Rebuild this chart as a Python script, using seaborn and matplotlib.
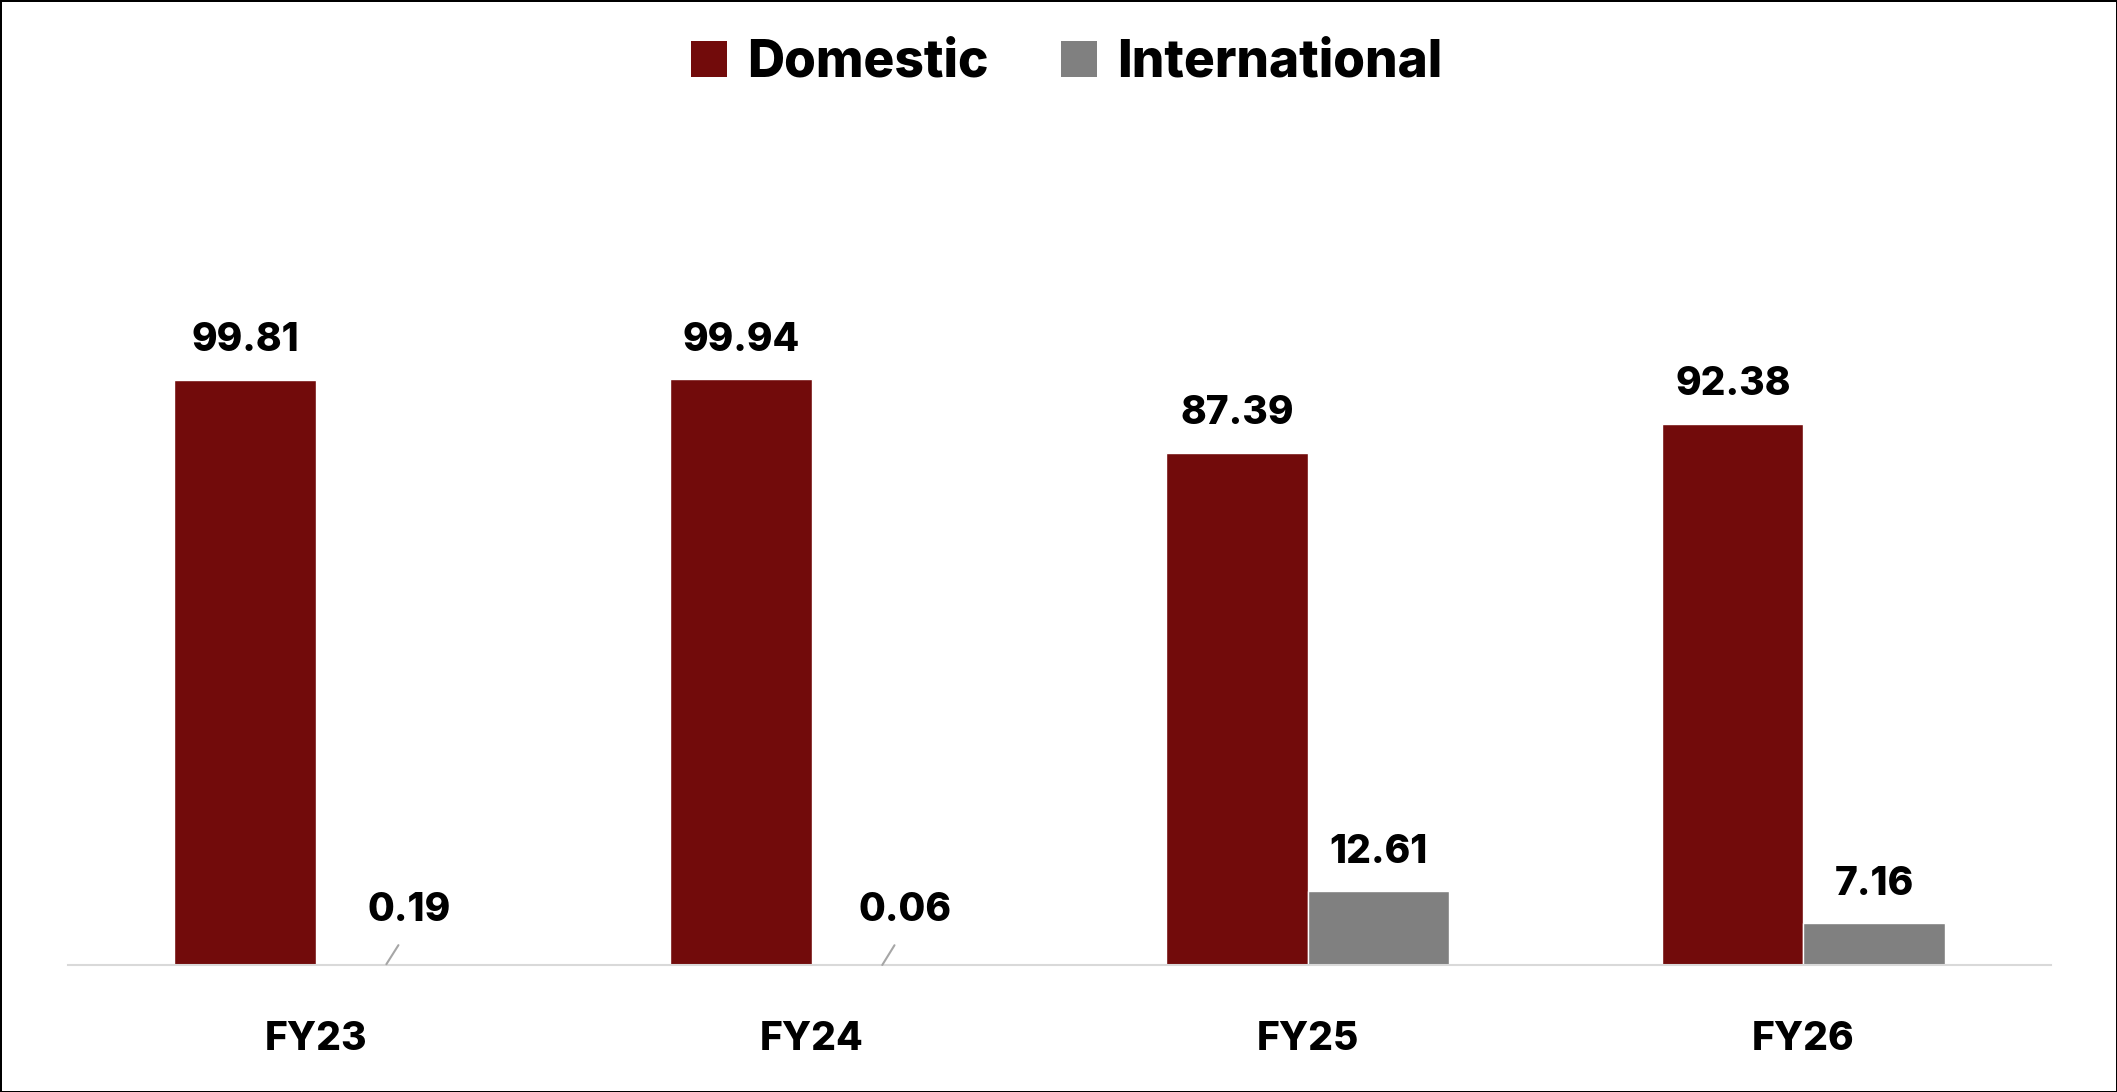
import matplotlib
matplotlib.use("Agg")
import matplotlib.pyplot as plt
import seaborn as sns
import pandas as pd

years = ["FY23", "FY24", "FY25", "FY26"]
domestic = [99.81, 99.94, 87.39, 92.38]
international = [0.19, 0.06, 12.61, 7.16]
series_names = ["Domestic", "International"]
colors = ["#720b0b", "#808080"]

df = pd.DataFrame({
    "year": years * 2,
    "value": domestic + international,
    "series": [series_names[0]] * len(years) + [series_names[1]] * len(years),
})

sns.set_theme(style="white")
plt.rcParams["font.family"] = ["Inter", "DejaVu Sans"]
plt.rcParams["text.color"] = "black"
plt.rcParams["xtick.color"] = "black"

fig = plt.figure(figsize=(21.17, 10.92), dpi=100)
fig.patch.set_edgecolor("black")
fig.patch.set_linewidth(2)
ax = fig.add_axes([0.032, 0.116, 0.937, 0.768])

sns.barplot(data=df, x="year", y="value", hue="series", palette=colors,
            width=0.57, gap=0, ax=ax, legend=False, saturation=1)

ax.set_xlim(-0.5, 3.5)
ax.set_ylim(0, 143)
for s in ["top", "right", "left"]:
    ax.spines[s].set_visible(False)
ax.spines["bottom"].set_color("#d9d9d9")
ax.spines["bottom"].set_linewidth(1.5)
ax.set_yticks([])
ax.set_xlabel("")
ax.set_ylabel("")
ax.tick_params(axis="x", length=0, pad=40)
for lab in ax.get_xticklabels():
    lab.set_fontsize(28)
    lab.set_fontweight("heavy")
    lab.set_color("black")

bw = 0.57 / 2
for si, vals in enumerate([domestic, international]):
    for i, v in enumerate(vals):
        xc = i - bw / 2 + si * bw
        if v < 1:
            ax.annotate(f"{v:.2f}", xy=(xc, v), xytext=(xc + 0.045, 6.2),
                        ha="center", va="bottom", fontsize=28, fontweight="heavy",
                        color="black",
                        arrowprops=dict(arrowstyle="-", color="#a6a6a6", lw=1.5,
                                        shrinkA=11, shrinkB=0,
                                        relpos=(0.5, 0)),
                        annotation_clip=False)
        else:
            ax.text(xc, v + 3.5, f"{v:.2f}", ha="center", va="bottom",
                    fontsize=28, fontweight="heavy", color="black")

from matplotlib.patches import Patch
handles = [Patch(facecolor=c, edgecolor="none") for c in colors]
leg = fig.legend(handles, series_names, loc="center", bbox_to_anchor=(0.504, 0.942),
                 ncol=2, frameon=False, prop=dict(size=37, weight="heavy"),
                 handlelength=0.7, handleheight=0.7, handletextpad=0.4,
                 columnspacing=1.4)
for t in leg.get_texts():
    t.set_color("black")

fig.savefig("out.png", dpi=100, edgecolor=fig.get_edgecolor())
